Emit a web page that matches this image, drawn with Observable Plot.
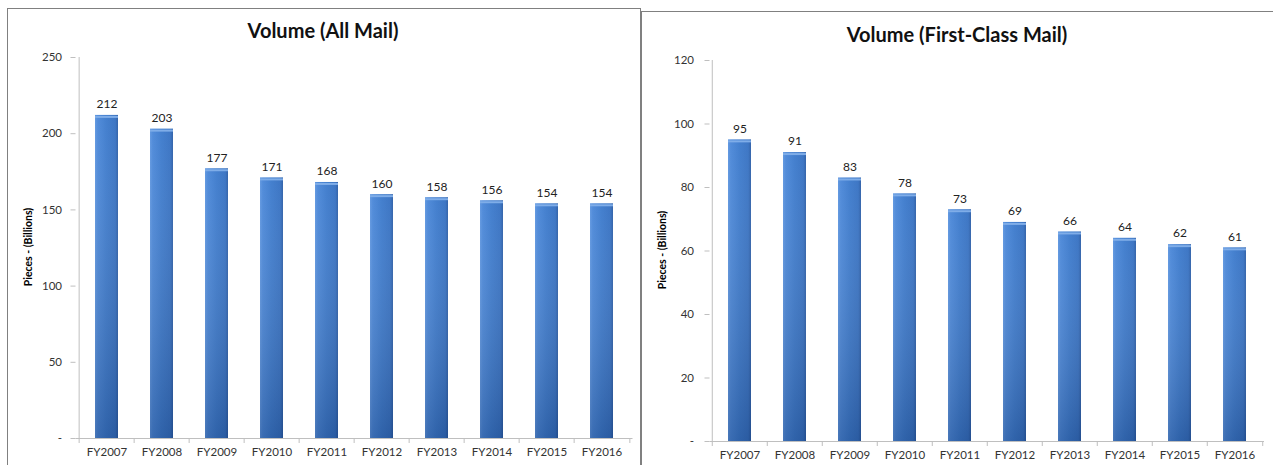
<!DOCTYPE html>
<html><head><meta charset="utf-8">
<script src="https://cdn.jsdelivr.net/npm/d3@7"></script>
<script src="https://cdn.jsdelivr.net/npm/@observablehq/plot@0.6"></script>
<style>
body{margin:0;background:#fff;font-family:Lato,sans-serif;}
#wrap{position:relative;width:1273px;height:465px;overflow:hidden;background:#fff;}
.panel{position:absolute;border:1px solid #808080;box-sizing:border-box;}
.title{position:absolute;font:bold 20px Lato,sans-serif;color:#111;transform:translate(-50%,-50%);white-space:nowrap;}
.ylab{position:absolute;font:bold 10.5px Lato,sans-serif;color:#000;transform:translate(-50%,-50%) rotate(-90deg);white-space:nowrap;}
.chart{position:absolute;top:0;}
.chart svg [aria-label^="y-axis"] path,.chart svg [aria-label^="y-axis"] line{stroke:#bfbfbf;}
</style></head><body>
<svg width="0" height="0" style="position:absolute">
<defs>
<linearGradient id="gh" x1="0" x2="1" y1="0" y2="0">
<stop offset="0" stop-color="#5e96e0"/>
<stop offset="0.12" stop-color="#4a87d8"/>
<stop offset="0.5" stop-color="#3c7acc"/>
<stop offset="0.88" stop-color="#3671c2"/>
<stop offset="1" stop-color="#2b5da6"/>
</linearGradient>
<linearGradient id="gv" x1="0" x2="0" y1="0" y2="1">
<stop offset="0" stop-color="#ffffff" stop-opacity="0.04"/>
<stop offset="1" stop-color="#0a1e46" stop-opacity="0.26"/>
</linearGradient>
</defs>
</svg>
<div id="wrap">
<div class="panel" style="left:7px;top:8px;width:634px;height:480px;"></div>
<div class="panel" style="left:641px;top:11px;width:660px;height:480px;"></div>
<div id="c1" class="chart" style="left:0px;width:641px;"></div>
<div id="c2" class="chart" style="left:641px;width:632px;"></div>
<div class="title" style="left:323px;top:30px;">Volume (All Mail)</div>
<div class="title" style="left:957px;top:34px;">Volume (First-Class Mail)</div>
<div class="ylab" style="left:28px;top:247px;">Pieces - (Billions)</div>
<div class="ylab" style="left:662px;top:250px;">Pieces - (Billions)</div>
</div>
<script>
const years = ["FY2007","FY2008","FY2009","FY2010","FY2011","FY2012","FY2013","FY2014","FY2015","FY2016"];
const allMail = [212,203,177,171,168,160,158,156,154,154];
const firstClass = [95,91,83,78,73,69,66,64,62,61];
const allMailTicks = [0,50,100,150,200,250];
const firstClassTicks = [0,20,40,60,80,100,120];

function makeChart(values, ticks, opts) {
  const data = years.map((year, i) => ({year, value: values[i]}));
  const frameH = 465 - opts.mt - opts.mb;
  const step = (opts.width - opts.ml - opts.mr) / years.length;
  return Plot.plot({
    width: opts.width,
    height: 465,
    marginLeft: opts.ml,
    marginRight: opts.mr,
    marginTop: opts.mt,
    marginBottom: opts.mb,
    style: {fontFamily: "Lato, sans-serif", fontSize: "11.5px", color: "#333", background: "transparent", overflow: "visible"},
    x: {domain: years, paddingInner: 0.59, paddingOuter: 0.295, label: null, tickSize: 0, tickPadding: 9},
    y: {domain: [0, d3.max(ticks)], ticks: ticks, tickFormat: d => d === 0 ? "-" : d, tickSize: 5, tickPadding: opts.tp, label: null},
    marks: [
      Plot.ruleY([0], {stroke: "#bfbfbf"}),
      Plot.ruleX(years, {x: d => d, dx: -step / 2, stroke: "#bfbfbf", insetTop: frameH, insetBottom: -5}),
      Plot.ruleX([years[0]], {x: d => d, dx: -step / 2, stroke: "#bfbfbf"}),
      Plot.ruleX([years[years.length - 1]], {x: d => d, dx: step / 2, stroke: "#bfbfbf", insetTop: frameH, insetBottom: -5}),
      Plot.barY(data, {x: "year", y: "value", fill: "url(#gh)"}),
      Plot.barY(data, {x: "year", y: "value", fill: "url(#gv)"}),
      Plot.tickY(data, {x: "year", y: "value", stroke: "#7fade8", strokeWidth: 2, dy: 1.5}),
      Plot.text(data, {x: "year", y: "value", text: d => String(d.value), dy: -11, fontSize: 12, fill: "#222"})
    ]
  });
}

document.getElementById("c1").append(makeChart(allMail, allMailTicks, {width: 641, ml: 75.5, mr: 8.5, mt: 57, mb: 27, tp: 9}));
document.getElementById("c2").append(makeChart(firstClass, firstClassTicks, {width: 632, ml: 68.5, mr: 9, mt: 60, mb: 24, tp: 11}));
</script>
</body></html>
